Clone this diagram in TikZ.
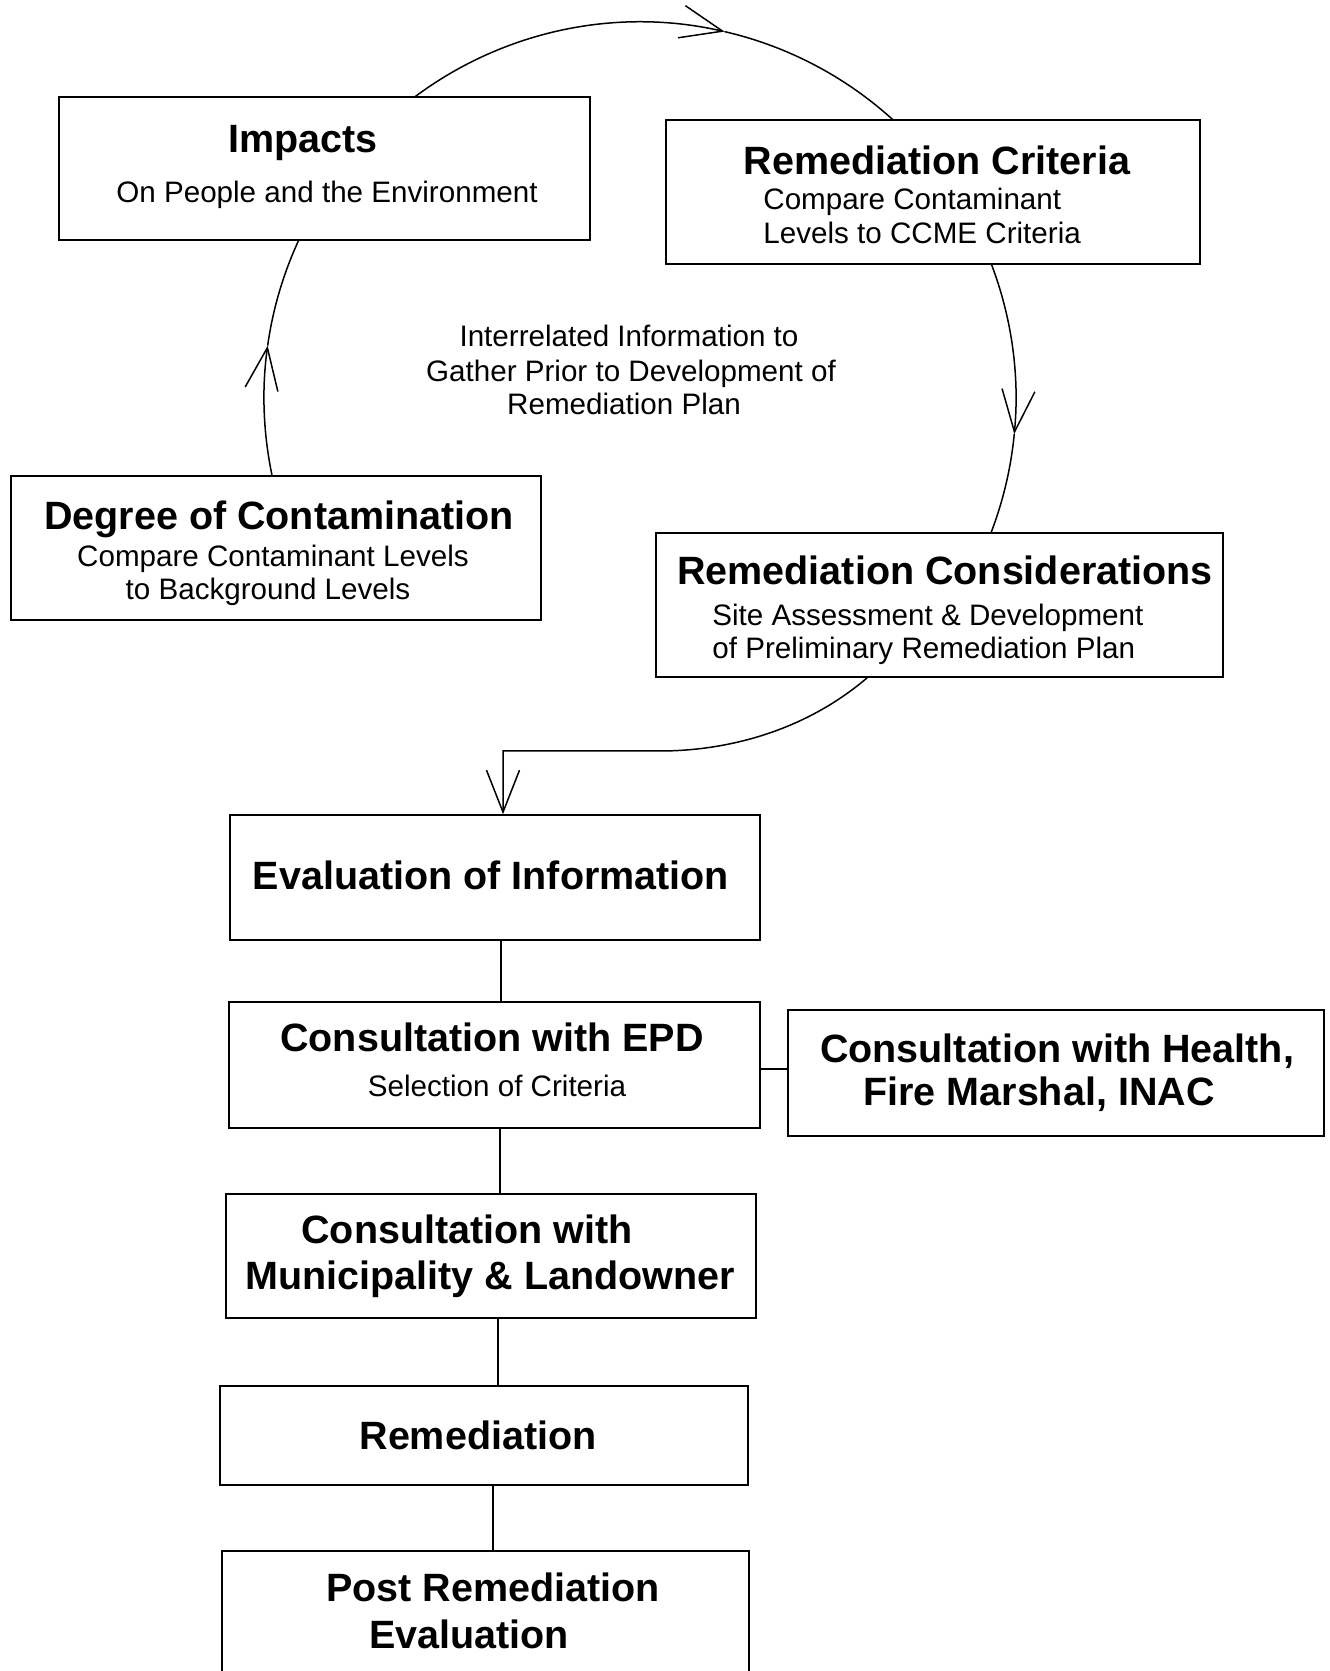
\documentclass[tikz,border=0pt]{standalone}
\usepackage{fontspec}
\setmainfont{Liberation Sans}
\usetikzlibrary{arrows.meta,calc}
\begin{document}
\begin{tikzpicture}[x=0.5pt,y=0.5pt,
  box/.style={draw, line width=0.75pt, rectangle, inner sep=0pt},
  ttl/.style={font=\fontsize{19.75}{22.5}\selectfont\bfseries, anchor=base, inner sep=0pt},
  sub/.style={font=\fontsize{14.8}{16.8}\selectfont, anchor=base, inner sep=0pt},
  subl/.style={sub, anchor=base west},
  link/.style={line width=0.75pt},
  arr/.style={line width=0.75pt, -{Straight Barb[length=21pt, width=16.5pt]}}]
\useasboundingbox[fill=white] (0,0) rectangle (1329,1671);

% boxes
\node[box, minimum width=265.5pt, minimum height=71.5pt] (imp) at (324.5,1502.5) {};
\node[box, minimum width=267pt, minimum height=72pt] (crit) at (933,1479) {};
\node[box, minimum width=265pt, minimum height=72pt] (deg) at (276,1123) {};
\node[box, minimum width=283.5pt, minimum height=72pt] (cons) at (939.5,1066) {};
\node[box, minimum width=265pt, minimum height=62.5pt] (ev) at (495,793.5) {};
\node[box, minimum width=265.5pt, minimum height=63pt] (epd) at (494.5,606) {};
\node[box, minimum width=268pt, minimum height=63pt] (health) at (1056,598) {};
\node[box, minimum width=265pt, minimum height=62pt] (muni) at (491,415) {};
\node[box, minimum width=264pt, minimum height=49.5pt] (rem) at (484,235.5) {};
\node[box, minimum width=263.5pt, minimum height=69pt] (post) at (485.5,51) {};

% texts
\node[ttl] (impT) at (303,1518.5) {Impacts};
\node[sub] (impS) at (327,1468.5) {On People and the Environment};
\node[ttl] (critT) at (937,1496) {Remediation Criteria};
\node[subl] (critS1) at (763,1461) {Compare Contaminant};
\node[subl] (critS2) at (763,1427.4) {Levels to CCME Criteria};
\node[ttl] (degT) at (279,1141) {Degree of Contamination};
\node[sub] (degS1) at (273,1104) {Compare Contaminant Levels};
\node[sub] (degS2) at (268,1071) {to Background Levels};
\node[ttl] (consT) at (945,1086) {Remediation Considerations};
\node[subl] (consS1) at (712,1045.4) {Site Assessment \& Development};
\node[subl] (consS2) at (712,1012.4) {of Preliminary Remediation Plan};
\node[sub] (mid1) at (629,1324) {Interrelated Information to};
\node[sub] (mid2) at (631,1289.5) {Gather Prior to Development of};
\node[sub] (mid3) at (624,1256.4) {Remediation Plan};
\node[ttl] (evT) at (491,781) {Evaluation of Information};
\node[ttl] (epdT) at (492,619) {Consultation with EPD};
\node[sub] (epdS) at (497,574) {Selection of Criteria};
\node[ttl] (healthT1) at (1057,608.4) {Consultation with Health,};
\node[ttl] (healthT2) at (1039,565) {Fire Marshal, INAC};
\node[ttl] (muniT1) at (467,427) {Consultation with};
\node[ttl] (muniT2) at (490,381.4) {Municipality \& Landowner};
\node[ttl] (remT) at (478,221.5) {Remediation};
\node[ttl] (postT1) at (493,69) {Post Remediation};
\node[ttl] (postT2) at (469,23) {Evaluation};

% cycle arcs
\coordinate (ctr) at (640,1273);
\coordinate (a1) at ($(ctr)+(126.8:376)$);
\coordinate (a2) at ($(ctr)+(77:376)$);
\coordinate (b1) at ($(ctr)+(20.88:376)$);
\coordinate (b2) at ($(ctr)+(-5.5:376)$);
\coordinate (c1) at ($(ctr)+(192:376)$);
\coordinate (c2) at ($(ctr)+(172:376)$);
\draw[arr] (a1) arc[start angle=126.8, end angle=77, radius=376];
\draw[link] (a2) arc[start angle=77, end angle=47.7, radius=376];
\draw[arr] (b1) arc[start angle=20.88, end angle=-5.5, radius=376];
\draw[link] (b2) arc[start angle=-5.5, end angle=-21.04, radius=376];
\draw[arr] (c1) arc[start angle=192, end angle=172, radius=376];
\draw[link] (c2) arc[start angle=172, end angle=155.15, radius=376];

% from considerations to evaluation
\coordinate (s1) at ($(cons.south west)+(212,0)$);
\coordinate (bend) at (503,920);
\draw[arr] (s1) .. controls (800,936) and (720,920) .. (660,920) -- (bend) -- (bend |- ev.north);

% flow connectors
\draw[link] (ev.south -| 501,0) -- (epd.north -| 501,0);
\draw[link] (epd.south -| 500,0) -- (muni.north -| 500,0);
\draw[link] (muni.south -| 498,0) -- (rem.north -| 498,0);
\draw[link] (rem.south -| 493,0) -- (post.north -| 493,0);
\draw[link] (epd.east |- 0,602) -- (health.west |- 0,602);
\end{tikzpicture}
\end{document}
